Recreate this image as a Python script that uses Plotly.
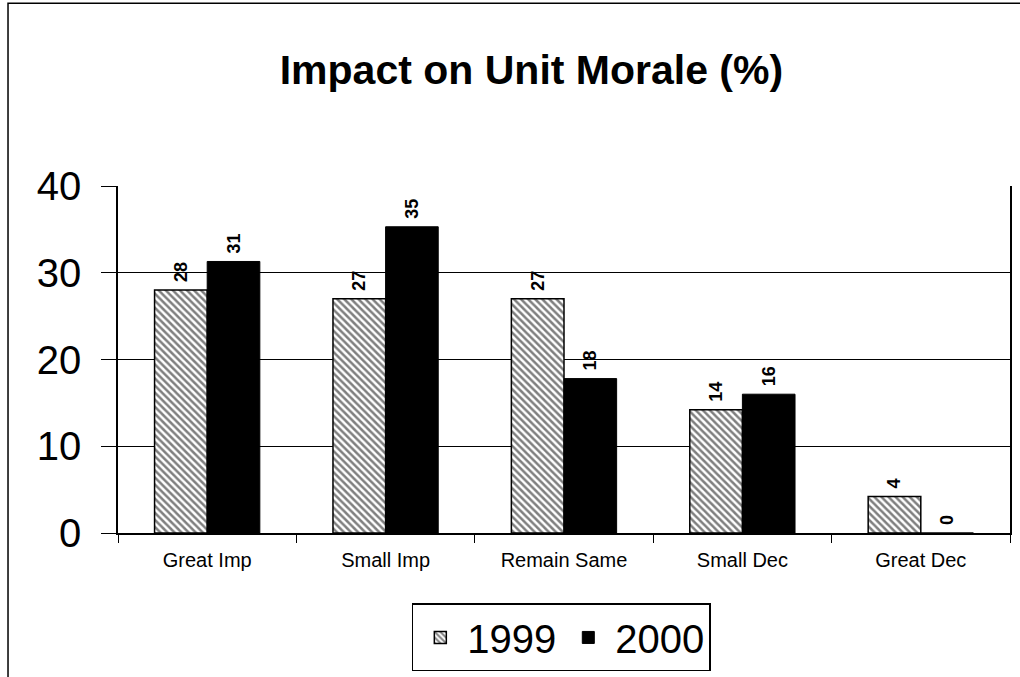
import plotly.graph_objects as go

categories = ["Great Imp", "Small Imp", "Remain Same", "Small Dec", "Great Dec"]
values_1999 = [28, 27, 27, 14.2, 4.2]
values_2000 = [31.3, 35.3, 17.8, 16.0, 0]
labels_1999 = ["28", "27", "27", "14", "4"]
labels_2000 = ["31", "35", "18", "16", "0"]
y_ticks = [0, 10, 20, 30, 40]

FONT = "Arial, Liberation Sans, Helvetica, sans-serif"
PAD = "\u00a0"

fig = go.Figure()
fig.add_trace(go.Bar(
    name="1999", x=categories, y=values_1999, text=[PAD + t for t in labels_1999],
    textposition="outside", textangle=-90, cliponaxis=False,
    textfont=dict(family=FONT, size=18, color="black", weight="bold"),
    marker=dict(color="white", line=dict(color="black", width=1.5),
                pattern=dict(shape="\\", fgcolor="black", bgcolor="white",
                             size=5, solidity=0.5)),
))
fig.add_trace(go.Bar(
    name="2000", x=categories, y=values_2000, text=[PAD + t for t in labels_2000],
    textposition="outside", textangle=-90, cliponaxis=False,
    textfont=dict(family=FONT, size=18, color="black", weight="bold"),
    marker=dict(color="black", line=dict(color="black", width=1)),
))

fig.update_layout(
    width=1020, height=677,
    margin=dict(l=118, r=10, t=186, b=144, autoexpand=False),
    paper_bgcolor="white", plot_bgcolor="white",
    barmode="group", bargap=0.41, bargroupgap=0,
    font=dict(family=FONT, color="black"),
    title=dict(text="<b>Impact on Unit Morale (%)</b>", x=0.521, xanchor="center",
               y=0.897, yanchor="middle",
               font=dict(family=FONT, size=41, color="black")),
    showlegend=True,
    legend=dict(orientation="h", x=0.497, xanchor="center", y=-0.203, yanchor="top",
                bordercolor="black", borderwidth=1.5, bgcolor="white",
                font=dict(family=FONT, size=40, color="black"),
                itemwidth=44, traceorder="normal"),
    xaxis=dict(showline=True, linecolor="black", linewidth=1.5, automargin=False,
               ticks="outside", tickson="boundaries", ticklen=8, tickcolor="black",
               ticklabelstandoff=8,
               tickfont=dict(family=FONT, size=20, color="black"),
               showgrid=False, zeroline=False),
    yaxis=dict(range=[0, 40], tickvals=y_ticks, showline=True, mirror=True,
               automargin=False, ticklabelstandoff=12,
               linecolor="black", linewidth=1.5, ticks="outside", ticklen=15,
               tickcolor="black", showgrid=True, gridcolor="black", gridwidth=1,
               tickfont=dict(family=FONT, size=40, color="black"),
               zeroline=False),
)

# outer chart frame (left and top edges visible)
fig.add_shape(type="rect", xref="paper", yref="paper",
              x0=-0.1233, x1=1.2, y0=-0.6, y1=1.527,
              line=dict(color="black", width=1.5), layer="below")

fig.write_html("out.html", config={"displayModeBar": False},
               post_script="document.body.style.margin='0';document.body.style.overflow='hidden';")
